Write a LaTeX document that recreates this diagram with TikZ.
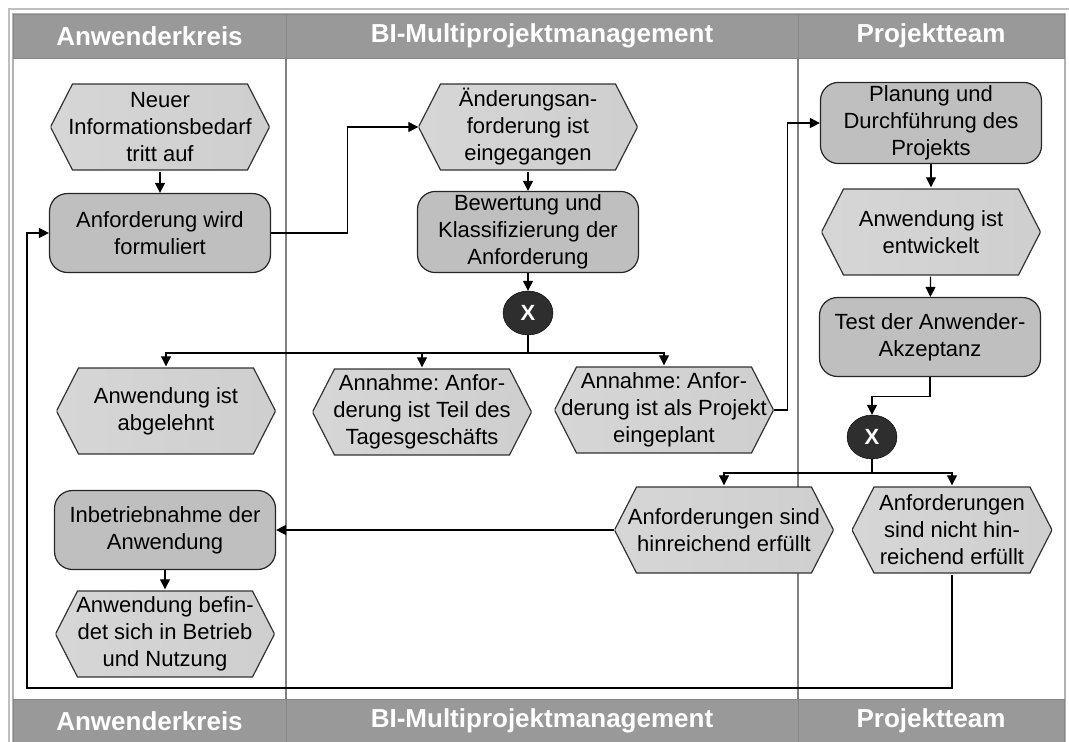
\documentclass[tikz,border=0pt]{standalone}
\usepackage{fontspec}
\setmainfont{Liberation Sans}
\usetikzlibrary{shapes.geometric,arrows.meta}
\frenchspacing

\tikzset{
  eventHex/.style={rectangle, minimum width=#1, minimum height=89pt, inner sep=0pt, align=center,
    font=\fontsize{22}{27}\selectfont,
    path picture={
      \shadedraw[left color=gray!32, middle color=gray!4, right color=gray!38, draw=black!80, line width=1.2pt]
        ([shift={(22pt,-1.5pt)}]path picture bounding box.north west) --
        ([shift={(-22pt,-1.5pt)}]path picture bounding box.north east) --
        (path picture bounding box.east) --
        ([shift={(-22pt,1.5pt)}]path picture bounding box.south east) --
        ([shift={(22pt,1.5pt)}]path picture bounding box.south west) --
        (path picture bounding box.west) -- cycle;
    }},
  eventHex/.default=219pt,
  funcBox/.style={rectangle, rounded corners=18pt, draw=black!85, line width=1.2pt, fill=gray!50,
    minimum width=221pt, minimum height=79pt, align=center, font=\fontsize{22}{27}\selectfont},
  xorGate/.style={ellipse, fill=black!82, draw=black, minimum width=50pt, minimum height=44pt,
    inner sep=0pt, text=white, font=\fontsize{22}{22}\selectfont\bfseries},
  laneHead/.style={rectangle, fill=gray!80, draw=gray!95, line width=1pt, minimum height=44pt,
    inner sep=0pt, text=white, font=\fontsize{26}{30}\selectfont\bfseries},
  flow/.style={draw=black, line width=1.2pt, -{Triangle[length=10pt,width=10pt]}},
  plain/.style={draw=black, line width=1.2pt},
  laneLine/.style={draw=gray, line width=1.6pt}
}

\begin{document}
\begin{tikzpicture}[x=1pt,y=-1pt]
  \useasboundingbox (0,0) rectangle (1069,742);

  % frame and lanes
  \draw[gray!50, line width=1.5pt] (9,742) -- (9,9) -- (1069,9);
  \draw[gray!60, line width=1.2pt] (13,742) -- (13,14) -- (1065,14) -- (1065,742);
  \draw[laneLine] (286,14) -- (286,742);
  \draw[laneLine] (798,14) -- (798,742);

  % headers
  \node[laneHead, minimum width=273pt](headUser) at (149.5,36){Anwenderkreis};
  \node[laneHead, minimum width=512pt](headBI)   at (542,36){BI-Multiprojektmanagement};
  \node[laneHead, minimum width=266pt](headTeam) at (931,36){Projektteam};
  \node[laneHead, minimum width=273pt](footUser) at (149.5,721){Anwenderkreis};
  \node[laneHead, minimum width=512pt](footBI)   at (542,721){BI-Multiprojektmanagement};
  \node[laneHead, minimum width=266pt](footTeam) at (931,721){Projektteam};

  % Anwenderkreis
  \node[eventHex](eventNeed)      at (160,127){Neuer\\Informationsbedarf\\tritt auf};
  \node[funcBox] (funcFormulate)  at (160,233){Anforderung wird\\formuliert};
  \node[eventHex](eventRejected)  at (166,411){Anwendung ist\\abgelehnt};
  \node[funcBox] (funcStartup)    at (165,530){Inbetriebnahme der\\Anwendung};
  \node[eventHex](eventOperation) at (165,634){Anwendung befin-\\det sich in Betrieb\\und Nutzung};

  % BI-Multiprojektmanagement
  \node[eventHex](eventChange)    at (528,127){Änderungsan-\\forderung ist\\eingegangen};
  \node[funcBox] (funcAssess)     at (528,232){Bewertung und\\Klassifizierung der\\Anforderung};
  \node[xorGate] (xorOne)         at (528,313){X};
  \node[eventHex](eventDaily)     at (422,412){Annahme: Anfor-\\derung ist Teil des\\Tagesgeschäfts};
  \node[eventHex](eventProject)   at (664,410){Annahme: Anfor-\\derung ist als Projekt\\eingeplant};

  % Projektteam
  \node[funcBox] (funcProject)    at (931,123){Planung und\\Durchführung des\\Projekts};
  \node[eventHex](eventDeveloped) at (931,232){Anwendung ist\\entwickelt};
  \node[funcBox] (funcTest)       at (930,337){Test der Anwender-\\Akzeptanz};
  \node[xorGate] (xorTwo)         at (872,437){X};
  \node[eventHex](eventFulfilled) at (724,530){Anforderungen sind\\hinreichend erfüllt};
  \node[eventHex=200pt](eventNotFulfilled) at (952,530){Anforderungen\\sind nicht hin-\\reichend erfüllt};

  \coordinate (splitOne) at (528,353);
  \coordinate (splitTwo) at (872,473);
  \coordinate (loopCorner) at (27,688);

  % connectors
  \draw[flow] (eventNeed) -- (funcFormulate);
  \draw[flow] (funcFormulate.east) -- ++(76,0) |- (eventChange.west);
  \draw[flow] (eventChange) -- (funcAssess);
  \draw[flow] (funcAssess) -- (xorOne);
  \draw[plain] (xorOne.south) -- (splitOne);
  \draw[flow] (splitOne) -| (eventRejected.north);
  \draw[flow] (splitOne) -| (eventDaily.north);
  \draw[flow] (splitOne) -| (eventProject.north);
  \draw[flow] (eventProject.east) -- ++(14,0) |- (funcProject.west);
  \draw[flow] (funcProject) -- (eventDeveloped);
  \draw[flow] (eventDeveloped) -- (funcTest);
  \draw[flow] (funcTest.south) -- ++(0,19) -| (xorTwo.north);
  \draw[plain] (xorTwo.south) -- (splitTwo);
  \draw[flow] (splitTwo) -| (eventFulfilled.north);
  \draw[flow] (splitTwo) -| (eventNotFulfilled.north);
  \draw[flow] (eventFulfilled.west) -- (funcStartup.east);
  \draw[flow] (funcStartup) -- (eventOperation);
  \draw[flow] (eventNotFulfilled.south) |- (loopCorner) |- (funcFormulate.west);
\end{tikzpicture}
\end{document}
